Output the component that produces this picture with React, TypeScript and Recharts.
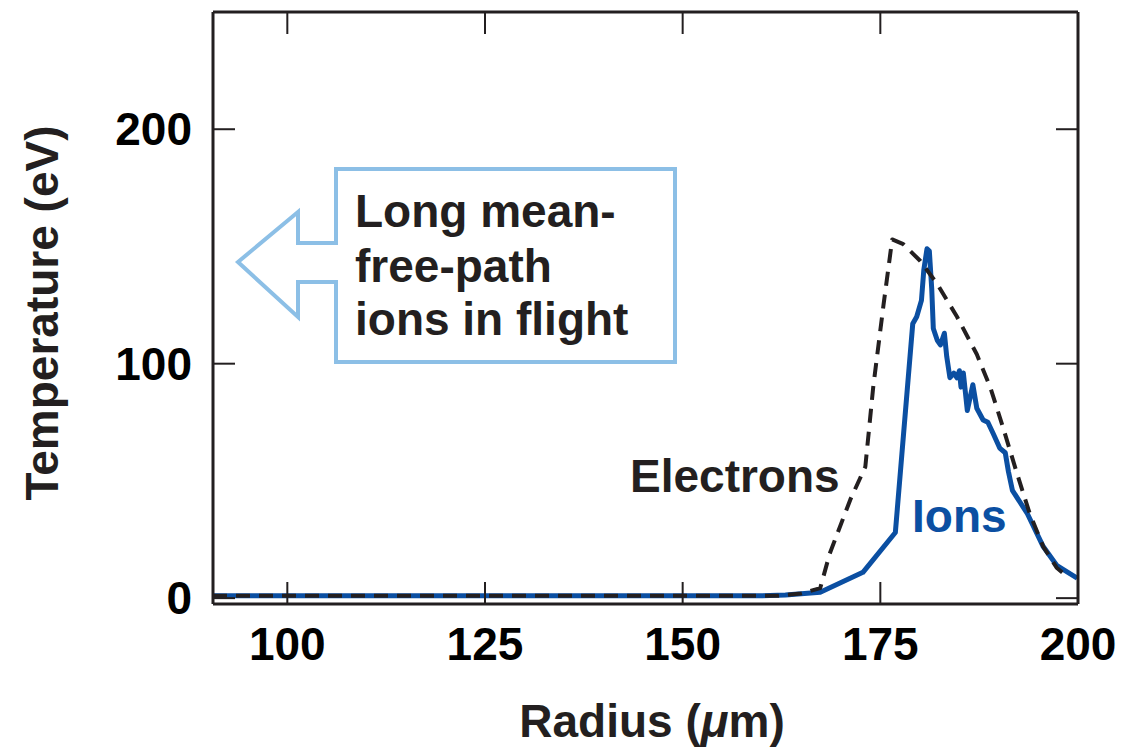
import React from 'react';
import { LineChart, Line, XAxis, YAxis } from 'recharts';

const electronR = [90.6, 162, 165, 167.4, 168.6, 171.2, 173.1, 174.1, 175.4, 176.5, 177.9, 180, 182.2, 184.7, 187.2, 188.9, 190.5, 192.3, 193.9, 195.6, 197.3, 198.7];
const electronT = [1, 1, 2, 4.3, 19, 42, 56, 90, 125, 153, 151, 144, 134, 120, 104, 90, 73, 53, 36, 22, 13, 9];

const ionR = [90.6, 160, 163, 167.4, 172.8, 176.9, 179.1, 179.6, 180.2, 180.5, 180.9, 181.2, 181.5, 181.7, 182.2, 182.6, 183.1, 183.4, 183.8, 184.3, 184.7, 185, 185.2, 185.5, 186, 186.7, 187.2, 188, 188.6, 189.3, 190.1, 190.8, 191.2, 191.7, 193.6, 195.6, 197.3, 199.9];
const ionT = [1, 1, 1.3, 2.5, 11, 28, 117, 120, 127, 140, 149, 148, 132, 115, 110, 108, 113, 103, 94, 96, 94, 97, 90, 96, 80, 91, 81, 76, 75, 70, 64, 62, 54, 46, 36, 22, 14, 8.5];

const xTicks = [100, 125, 150, 175, 200];
const yTicks = [0, 100, 200];
const xDomain = [90.6, 200];
const yDomain = [-2.5, 250];

const electronData = electronR.map((r, i) => ({ r, t: electronT[i] }));
const ionData = ionR.map((r, i) => ({ r, t: ionT[i] }));

const FONT = '"Liberation Sans", Arial, Helvetica, sans-serif';
const INK = '#231f20';
const BLUE = '#0b4fa2';
const LIGHT = '#8cbfe6';
const TICK_LEN = 22;

const BottomTick = (props: any) => {
  const { x, y, payload } = props;
  return (
    <g>
      <line x1={x} y1={y} x2={x} y2={y - TICK_LEN} stroke={INK} strokeWidth={2} />
      <text x={x} y={y + 56} textAnchor="middle" fontFamily={FONT} fontWeight="bold" fontSize={46} fill="#000">
        {payload.value}
      </text>
    </g>
  );
};

const TopTick = (props: any) => {
  const { x, y } = props;
  return <line x1={x} y1={y} x2={x} y2={y + TICK_LEN} stroke={INK} strokeWidth={2} />;
};

const LeftTick = (props: any) => {
  const { x, y, payload } = props;
  return (
    <g>
      <line x1={x} y1={y} x2={x + TICK_LEN} y2={y} stroke={INK} strokeWidth={2} />
      <text x={x - 21} y={y + 16} textAnchor="end" fontFamily={FONT} fontWeight="bold" fontSize={46} fill="#000">
        {payload.value}
      </text>
    </g>
  );
};

const RightTick = (props: any) => {
  const { x, y } = props;
  return <line x1={x} y1={y} x2={x - TICK_LEN} y2={y} stroke={INK} strokeWidth={2} />;
};

export default function App() {
  return (
    <div style={{ position: 'absolute', left: 0, top: 0, width: 1128, height: 750, background: '#fff' }}>
      <div style={{ position: 'absolute', left: 0, top: 0 }}>
        <LineChart width={1128} height={750} margin={{ top: 2, right: 40, bottom: 86, left: 153 }}>
          <XAxis
            xAxisId={0}
            type="number"
            dataKey="r"
            domain={xDomain}
            ticks={xTicks}
            allowDataOverflow
            height={60}
            tickSize={0}
            tickMargin={0}
            tickLine={false}
            axisLine={{ stroke: INK, strokeWidth: 3 }}
            tick={<BottomTick />}
            interval={0}
          />
          <XAxis
            xAxisId="top"
            orientation="top"
            type="number"
            dataKey="r"
            domain={xDomain}
            ticks={xTicks}
            allowDataOverflow
            height={10}
            tickSize={0}
            tickMargin={0}
            tickLine={false}
            axisLine={{ stroke: INK, strokeWidth: 3 }}
            tick={<TopTick />}
            interval={0}
          />
          <YAxis
            yAxisId={0}
            type="number"
            domain={yDomain}
            ticks={yTicks}
            allowDataOverflow
            width={60}
            tickSize={0}
            tickMargin={0}
            tickLine={false}
            axisLine={{ stroke: INK, strokeWidth: 3 }}
            tick={<LeftTick />}
            interval={0}
          />
          <YAxis
            yAxisId="right"
            orientation="right"
            type="number"
            domain={yDomain}
            ticks={yTicks}
            allowDataOverflow
            width={10}
            tickSize={0}
            tickMargin={0}
            tickLine={false}
            axisLine={{ stroke: INK, strokeWidth: 3 }}
            tick={<RightTick />}
            interval={0}
          />
          <Line
            data={ionData}
            dataKey="t"
            type="linear"
            stroke={BLUE}
            strokeWidth={5}
            dot={false}
            strokeLinejoin="round"
            isAnimationActive={false}
          />
          <Line
            data={electronData}
            dataKey="t"
            type="linear"
            stroke={INK}
            strokeWidth={4}
            strokeDasharray="14 9"
            dot={false}
            strokeLinejoin="round"
            isAnimationActive={false}
          />
        </LineChart>
      </div>
      <svg
        width={1128}
        height={750}
        style={{ position: 'absolute', left: 0, top: 0, pointerEvents: 'none' }}
      >
        <path
          d="M336,169 L675,169 L675,362 L336,362 L336,282 L298,282 L298,317 L238,262 L298,212 L298,243 L336,243 Z"
          fill="#fff"
          stroke={LIGHT}
          strokeWidth={4}
        />
        <g fontFamily={FONT} fontWeight="bold" fontSize={46} fill={INK}>
          <text x={355} y={227}>Long mean-</text>
          <text x={355} y={282}>free-path</text>
          <text x={355} y={335}>ions in flight</text>
          <text x={630} y={492}>Electrons</text>
        </g>
        <text x={912} y={532} fontFamily={FONT} fontWeight="bold" fontSize={46} fill={BLUE}>Ions</text>
        <text
          transform="translate(58,313) rotate(-90)"
          textAnchor="middle"
          fontFamily={FONT}
          fontWeight="bold"
          fontSize={46}
          fill={INK}
        >
          Temperature (eV)
        </text>
        <text x={652} y={737} textAnchor="middle" fontFamily={FONT} fontWeight="bold" fontSize={46} fill={INK}>
          Radius (<tspan fontStyle="italic">μ</tspan>m)
        </text>
      </svg>
    </div>
  );
}
